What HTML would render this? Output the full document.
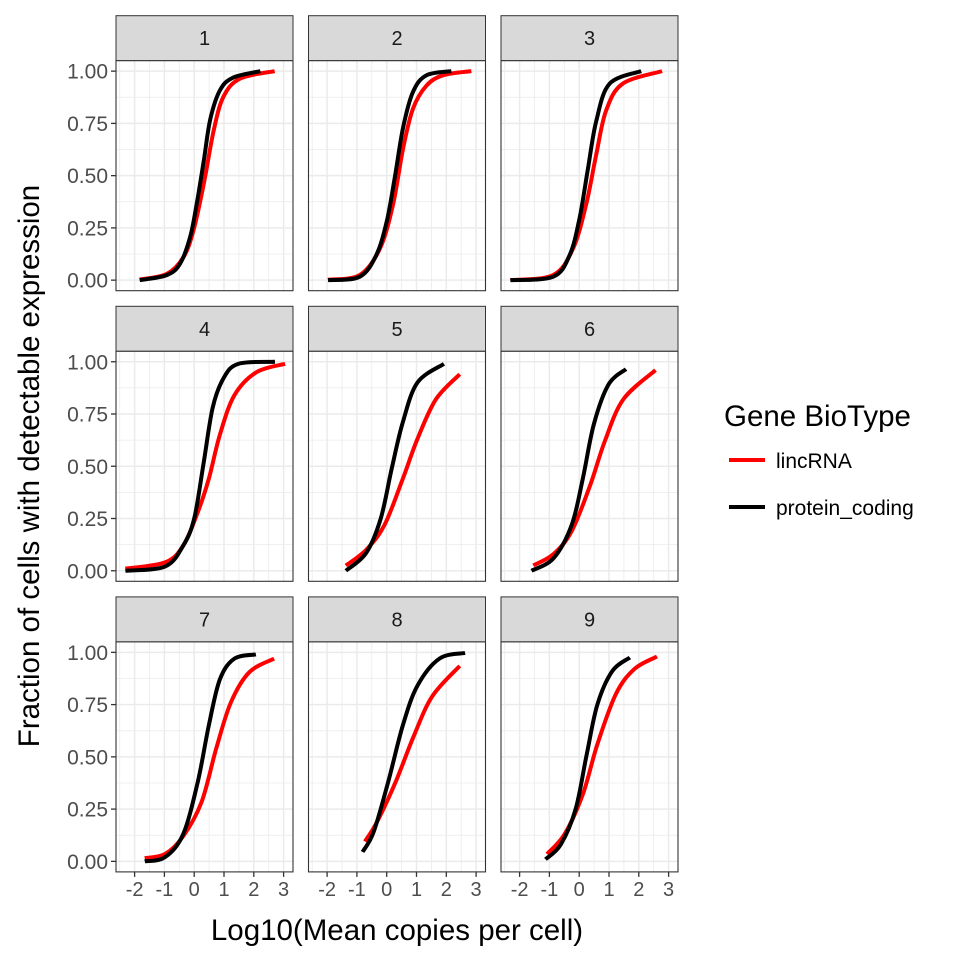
<!DOCTYPE html>
<html><head><meta charset="utf-8">
<style>
html,body{margin:0;padding:0;background:#fff;}
svg{display:block;font-family:"Liberation Sans",Arial,sans-serif;}
</style></head>
<body>
<svg id="chart" width="960" height="960" viewBox="0 0 960 960" xmlns="http://www.w3.org/2000/svg">
<rect x="0" y="0" width="960" height="960" fill="#fff"/>
<g id="panels"></g>
<text x="397" y="940" font-size="29.5" text-anchor="middle" fill="#000">Log10(Mean copies per cell)</text>
<text transform="translate(39,466) rotate(-90)" font-size="29.5" text-anchor="middle" fill="#000">Fraction of cells with detectable expression</text>
<g>
<text x="724" y="426" font-size="29.5" fill="#000">Gene BioType</text>
<line x1="729" y1="460" x2="765" y2="460" stroke="#FF0000" stroke-width="4"/>
<text x="776" y="468" font-size="21" fill="#000">lincRNA</text>
<line x1="729" y1="507" x2="765" y2="507" stroke="#000" stroke-width="4"/>
<text x="776" y="515" font-size="21" fill="#000">protein_coding</text>
</g>
</svg>
<script>
const panelLabels = ["1","2","3","4","5","6","7","8","9"];
const xTicks = [-2,-1,0,1,2,3];
const yTicks = [0,0.25,0.5,0.75,1];
const yTickLabels = ["0.00","0.25","0.50","0.75","1.00"];
const seriesNames = ["lincRNA","protein_coding"];
// x values and fraction values per panel, red = lincRNA, black = protein_coding
const lincX = [
 [-1.83,-0.92,-0.36,-0.02,0.32,0.66,0.99,1.55,2.7],
 [-1.97,-0.91,-0.23,0.21,0.55,0.88,1.33,1.89,2.84],
 [-2.31,-0.88,-0.21,0.23,0.57,0.9,1.46,2.78],
 [-2.31,-0.98,-0.37,0.12,0.49,0.86,1.35,2.09,3.05],
 [-1.37,-0.69,-0.07,0.54,1.03,1.65,2.45],
 [-1.54,-0.86,-0.25,0.37,0.86,1.48,2.56],
 [-1.66,-0.98,-0.37,0.25,0.74,1.23,1.85,2.68],
 [-0.73,-0.32,0.3,0.91,1.53,2.45],
 [-1.08,-0.49,0.12,0.61,1.23,1.85,2.61]
];
const lincY = [
 [0.003,0.03,0.11,0.24,0.46,0.72,0.88,0.965,1.0],
 [0.002,0.024,0.15,0.36,0.63,0.82,0.93,0.98,1.0],
 [0.0,0.024,0.15,0.36,0.6,0.81,0.94,1.0],
 [0.01,0.04,0.12,0.28,0.44,0.65,0.84,0.95,0.99],
 [0.025,0.1,0.22,0.44,0.63,0.82,0.94],
 [0.025,0.08,0.19,0.41,0.62,0.82,0.96],
 [0.015,0.035,0.12,0.285,0.54,0.76,0.905,0.97],
 [0.095,0.19,0.38,0.6,0.79,0.935],
 [0.035,0.13,0.32,0.56,0.8,0.92,0.98]
];
const protX = [
 [-1.83,-0.92,-0.47,-0.13,0.09,0.32,0.54,0.87,1.32,2.22],
 [-1.97,-0.91,-0.35,0,0.27,0.55,0.88,1.33,2.17],
 [-2.31,-0.88,-0.32,0.01,0.29,0.57,1.02,2.08],
 [-2.31,-0.98,-0.37,0,0.31,0.62,0.98,1.48,2.71],
 [-1.37,-0.69,-0.2,0.17,0.54,1.03,1.92],
 [-1.6,-0.86,-0.25,0.12,0.49,0.98,1.57],
 [-1.66,-0.98,-0.37,0.12,0.49,0.86,1.35,2.07],
 [-0.81,-0.44,0.05,0.54,1.03,1.77,2.63],
 [-1.13,-0.62,-0.12,0.25,0.61,1.11,1.7]
];
const protY = [
 [0.0,0.024,0.08,0.21,0.37,0.57,0.77,0.91,0.97,1.0],
 [0.0,0.016,0.12,0.28,0.49,0.73,0.9,0.98,1.0],
 [0.0,0.016,0.12,0.295,0.53,0.76,0.94,1.0],
 [0.0,0.02,0.12,0.25,0.51,0.78,0.92,0.99,1.0],
 [0.0,0.085,0.25,0.49,0.71,0.9,0.99],
 [0.0,0.06,0.22,0.44,0.7,0.89,0.965],
 [0.0,0.02,0.13,0.38,0.65,0.87,0.97,0.99],
 [0.045,0.14,0.38,0.65,0.84,0.97,0.997],
 [0.01,0.08,0.25,0.51,0.75,0.91,0.975]
];

const NS = "http://www.w3.org/2000/svg";
const root = document.getElementById("panels");
const colLeft = [116, 308.5, 501];
const rowTop = [60.7, 351.3, 641.9];
const PW = 177, PH = 230, STRIP = 45;
const XU = 29.8, YU = 209;
function mk(tag, attrs, parent){
  const e = document.createElementNS(NS, tag);
  for (const k in attrs) e.setAttribute(k, attrs[k]);
  parent.appendChild(e); return e;
}
function path(pts){
  if (pts.length < 2) return "";
  let d = "M" + pts[0][0].toFixed(2) + "," + pts[0][1].toFixed(2);
  for (let i = 0; i < pts.length - 1; i++){
    const p0 = pts[i-1] || pts[i], p1 = pts[i], p2 = pts[i+1], p3 = pts[i+2] || p2;
    const c1 = [p1[0] + (p2[0]-p0[0])/6, p1[1] + (p2[1]-p0[1])/6];
    const c2 = [p2[0] - (p3[0]-p1[0])/6, p2[1] - (p3[1]-p1[1])/6];
    d += "C" + c1[0].toFixed(2)+","+c1[1].toFixed(2)+" "+c2[0].toFixed(2)+","+c2[1].toFixed(2)+" "+p2[0].toFixed(2)+","+p2[1].toFixed(2);
  }
  return d;
}
panelLabels.forEach((lab, i) => {
  const r = Math.floor(i/3), c = i % 3;
  const L = colLeft[c], T = rowTop[r];
  const sx = v => L + 18.6 + (v + 2) * XU;
  const sy = v => T + (1.05 - v) * YU;
  const g = mk("g", {}, root);
  
  
  const strip = mk("rect", {x:L, y:T-STRIP, width:PW, height:STRIP, fill:"#D9D9D9", stroke:"#333", "stroke-width":1}, g);
  
  
  const st = mk("text", {x:L+PW/2, y:T-STRIP/2+7, "font-size":20, "text-anchor":"middle", fill:"#1A1A1A"}, g);
  st.textContent = lab;
  
  
  const bg = mk("rect", {x:L, y:T, width:PW, height:PH, fill:"#fff"}, g);
  
  
  const grid = mk("g", {}, g);
  
  
  for (let k = 0; k < yTicks.length - 1; k++){
    const y = sy((yTicks[k]+yTicks[k+1])/2);
    mk("line", {x1:L, x2:L+PW, y1:y, y2:y, stroke:"#EBEBEB", "stroke-width":0.8}, grid);
  }
  for (let k = 0; k < xTicks.length - 1; k++){
    const x = sx((xTicks[k]+xTicks[k+1])/2);
    mk("line", {x1:x, x2:x, y1:T, y2:T+PH, stroke:"#EBEBEB", "stroke-width":0.8}, grid);
  }
  [-2.5, 3.5].forEach(v => { const x = sx(v); if (x > L && x < L+PW) mk("line", {x1:x, x2:x, y1:T, y2:T+PH, stroke:"#EBEBEB", "stroke-width":0.8}, grid); });
  yTicks.forEach(v => { const y = sy(v); mk("line", {x1:L, x2:L+PW, y1:y, y2:y, stroke:"#EBEBEB", "stroke-width":1.5}, grid); });
  xTicks.forEach(v => { const x = sx(v); mk("line", {x1:x, x2:x, y1:T, y2:T+PH, stroke:"#EBEBEB", "stroke-width":1.5}, grid); });
  const series = [[lincX[i], lincY[i], "#FF0000", "lincrna"], [protX[i], protY[i], "#000000", "protein-coding"]];
  series.forEach(s => {
    const pts = s[0].map((xv, k) => [sx(xv), sy(s[1][k])]);
    const p = mk("path", {d:path(pts), fill:"none", stroke:s[2], "stroke-width":4, "stroke-linecap":"butt"}, g);
    
    
  });
  const border = mk("rect", {x:L, y:T, width:PW, height:PH, fill:"none", stroke:"#333", "stroke-width":1.1}, g);
  
  
  if (c === 0){
    const ya = mk("g", {}, g);
    
    
    yTicks.forEach((v, k) => {
      const y = sy(v);
      mk("line", {x1:L-5, x2:L, y1:y, y2:y, stroke:"#333", "stroke-width":1.3}, ya);
      const t = mk("text", {x:L-8, y:y+7.5, "font-size":21, "text-anchor":"end", fill:"#4D4D4D"}, ya);
      t.textContent = yTickLabels[k];
      
      
    });
  }
  if (r === 2){
    const xa = mk("g", {}, g);
    
    
    xTicks.forEach(v => {
      const x = sx(v);
      mk("line", {x1:x, x2:x, y1:T+PH, y2:T+PH+5, stroke:"#333", "stroke-width":1.3}, xa);
      const t = mk("text", {x:x, y:T+PH+24, "font-size":20, "text-anchor":"middle", fill:"#4D4D4D"}, xa);
      t.textContent = String(v);
      
      
    });
  }
});
</script>
</body></html>
